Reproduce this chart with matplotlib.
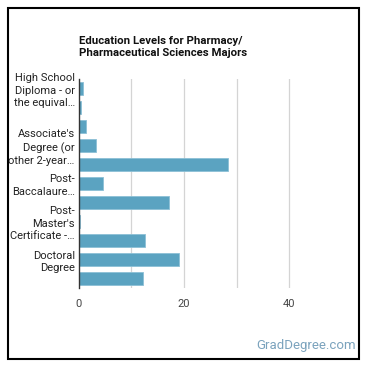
import numpy as np
import matplotlib
matplotlib.use('Agg')
import matplotlib.pyplot as plt
from matplotlib.patches import Rectangle

# education categories (top to bottom) and share of majors, %
categories = ['High School Diploma', 'Post-Secondary Certificate', 'Some College Courses',
              "Associate's Degree", "Bachelor's Degree", 'Post-Baccalaureate Certificate',
              "Master's Degree", "Post-Master's Certificate", 'First Professional Degree',
              'Doctoral Degree', 'Post-Doctoral Training']
values = [0.8, 0.4, 1.3, 3.2, 28.4, 4.6, 17.1, 0.1, 12.6, 19.0, 12.2]
tick_labels = ['High School\nDiploma - or\nthe equival\u2026', '', '',
               "Associate's\nDegree (or\nother 2-year\u2026", '',
               'Post-\nBaccalaure\u2026', '',
               "Post-\nMaster's\nCertificate -\u2026", '',
               'Doctoral\nDegree', '']
x_ticks = [0, 20, 40]
grid_x = [10, 20, 30, 40]
title = 'Education Levels for Pharmacy/\nPharmaceutical Sciences Majors'

plt.rcParams['font.family'] = ['Roboto', 'DejaVu Sans']

fig = plt.figure(figsize=(3.7, 3.7), dpi=100)
fig.patch.set_facecolor('white')
ax = fig.add_axes([0.2135, 0.2216, 0.7095, 0.565])

y = np.arange(len(categories))
ax.barh(y, values, height=0.68, color='#5ba3c1', edgecolor='#8cc0d6', linewidth=0.6, zorder=3)
for g in grid_x:
    ax.axvline(g, color='#d4d4d4', linewidth=0.9, zorder=1)

ax.set_ylim(len(categories) - 0.5, -0.5)
ax.set_xlim(0, 50)
ax.set_yticks(y)
ax.set_yticklabels(tick_labels, fontsize=8, color='#222222', linespacing=1.3)
ax.set_xticks(x_ticks)
ax.set_xticklabels([str(t) for t in x_ticks], fontsize=8, color='#444444')
ax.tick_params(axis='y', length=0, pad=3)
ax.tick_params(axis='x', length=0, pad=8)
for s in ['top', 'right', 'bottom']:
    ax.spines[s].set_visible(False)
ax.spines['left'].set_color('#333333')
ax.spines['left'].set_linewidth(1.0)
ax.spines['left'].set_zorder(4)

fig.text(79 / 370, 1 - 36 / 370, title, fontsize=8.2, fontweight='bold', color='#111111',
         ha='left', va='top', linespacing=1.2)
fig.text(356 / 370, 1 - 346 / 370, 'GradDegree.com', fontsize=9.5, color='#7ba3bd',
         ha='right', va='center')

fig.patches.append(Rectangle((8 / 370, 11 / 370), 351 / 370, 351 / 370, transform=fig.transFigure,
                             fill=False, edgecolor='black', linewidth=1.5))

fig.savefig('out.png', dpi=100)
